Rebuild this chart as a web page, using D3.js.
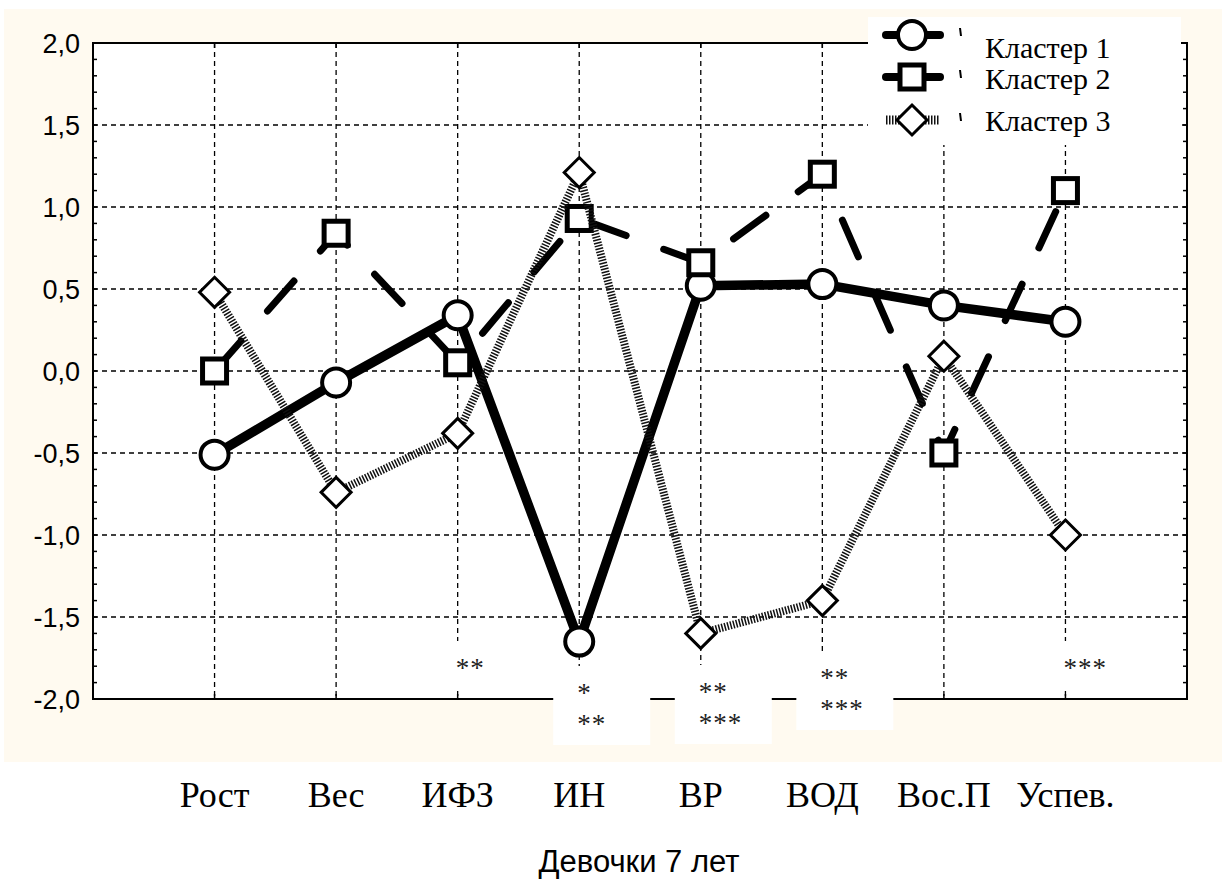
<!DOCTYPE html>
<html>
<head>
<meta charset="utf-8">
<script src="https://cdn.jsdelivr.net/npm/d3@7"></script>
<style>
  body { margin: 0; background: #fff; }
  svg { display: block; }
</style>
</head>
<body>
<svg id="chart"></svg>
<script>
const WIDTH = 1222;
const HEIGHT = 882;

// data
const categories = ["Рост", "Вес", "ИФЗ", "ИН", "ВР", "ВОД", "Вос.П", "Успев."];
const seriesNames = ["Кластер 1", "Кластер 2", "Кластер 3"];
const cluster1 = [-0.51, -0.07, 0.34, -1.65, 0.52, 0.53, 0.40, 0.30];
const cluster2 = [0.00, 0.84, 0.05, 0.93, 0.66, 1.20, -0.50, 1.10];
const cluster3 = [0.48, -0.74, -0.38, 1.21, -1.60, -1.40, 0.09, -1.00];
const yTicks = [-2, -1.5, -1, -0.5, 0, 0.5, 1, 1.5, 2];
const noteCats = ["ИФЗ", "ИН", "ВР", "ВОД", "Успев."];
const noteText = [["**"], ["*", "**"], ["**", "***"], ["**", "***"], ["***"]];
const titleText = "Девочки 7 лет";

// layout
const PLOT = {left: 93, top: 43, right: 1187, bottom: 699};
const NOTE_Y = [665, 690, 689, 675, 665]; // centre of the first row of stars
const LEGEND_Y = [35, 77, 120];
const LEGEND_TEXT_Y = [58, 89, 131];
const BEIGE = "#fffaf0";
const SERIF = "'Liberation Serif', 'Times New Roman', serif";
const SANS = "'Liberation Sans', Arial, sans-serif";

const svg = d3.select("#chart")
    .attr("width", WIDTH)
    .attr("height", HEIGHT);

const x = d3.scalePoint()
    .domain(categories)
    .range([PLOT.left, PLOT.right])
    .padding(1);

const y = d3.scaleLinear()
    .domain([-2, 2])
    .range([PLOT.bottom, PLOT.top]);

const fmt = v => v.toFixed(1).replace(".", ",");

// background panel
svg.append("rect")
    .attr("x", 4).attr("y", 9)
    .attr("width", WIDTH - 4).attr("height", 753)
    .attr("fill", BEIGE);

svg.append("rect")
    .attr("x", PLOT.left).attr("y", PLOT.top)
    .attr("width", PLOT.right - PLOT.left)
    .attr("height", PLOT.bottom - PLOT.top)
    .attr("fill", "#fff");

// grid
const grid = svg.append("g")
    .attr("stroke", "#000")
    .attr("stroke-width", 1.3)
    .attr("stroke-dasharray", "5,4");

grid.selectAll("line.h")
    .data(yTicks.filter(v => v > -2 && v < 2))
    .join("line")
    .attr("class", "h")
    .attr("x1", PLOT.left).attr("x2", PLOT.right)
    .attr("y1", d => y(d)).attr("y2", d => y(d));

grid.selectAll("line.v")
    .data(categories)
    .join("line")
    .attr("class", "v")
    .attr("x1", d => x(d)).attr("x2", d => x(d))
    .attr("y1", PLOT.top).attr("y2", PLOT.bottom);

// minor ticks on both sides
const minor = d3.range(-20, 21).map(i => i / 10);
const ticks = svg.append("g").attr("stroke", "#000").attr("stroke-width", 1.5);
ticks.selectAll("line.l")
    .data(minor).join("line").attr("class", "l")
    .attr("x1", PLOT.left).attr("x2", PLOT.left + 4)
    .attr("y1", d => y(d)).attr("y2", d => y(d));
ticks.selectAll("line.r")
    .data(minor).join("line").attr("class", "r")
    .attr("x1", PLOT.right - 4).attr("x2", PLOT.right)
    .attr("y1", d => y(d)).attr("y2", d => y(d));
ticks.selectAll("line.b")
    .data(categories).join("line").attr("class", "b")
    .attr("x1", d => x(d)).attr("x2", d => x(d))
    .attr("y1", PLOT.bottom - 5).attr("y2", PLOT.bottom);
ticks.selectAll("line.t")
    .data(categories).join("line").attr("class", "t")
    .attr("x1", d => x(d)).attr("x2", d => x(d))
    .attr("y1", PLOT.top).attr("y2", PLOT.top + 5);

// frame
svg.append("rect")
    .attr("x", PLOT.left).attr("y", PLOT.top)
    .attr("width", PLOT.right - PLOT.left)
    .attr("height", PLOT.bottom - PLOT.top)
    .attr("fill", "none")
    .attr("stroke", "#000")
    .attr("stroke-width", 2);

// y labels
const yAxis = svg.append("g")
    .attr("transform", `translate(${PLOT.left},0)`)
    .call(d3.axisLeft(y).tickValues(yTicks).tickFormat(fmt).tickSize(0).tickPadding(13));
yAxis.select(".domain").remove();
yAxis.selectAll("text")
    .attr("font-family", SANS)
    .attr("font-size", 27)
    .attr("fill", "#000")
    .attr("dy", "0.36em");

// x labels
svg.append("g").selectAll("text")
    .data(categories)
    .join("text")
    .attr("x", d => x(d))
    .attr("y", 807)
    .attr("text-anchor", "middle")
    .attr("font-family", SERIF)
    .attr("font-size", 36)
    .text(d => d);

// title
svg.append("text")
    .attr("x", 639).attr("y", 872)
    .attr("text-anchor", "middle")
    .attr("font-family", SANS)
    .attr("font-size", 31)
    .text(titleText);

// series
const series = [
    {name: seriesNames[0], values: cluster1, symbol: "circle"},
    {name: seriesNames[1], values: cluster2, symbol: "square"},
    {name: seriesNames[2], values: cluster3, symbol: "diamond"}
];

const line = d3.line()
    .x((d, i) => x(categories[i]))
    .y(d => y(d));

function styleLine(sel, symbol, width) {
    if (symbol === "circle") {
        sel.attr("stroke", "#000").attr("stroke-width", width || 9.5)
            .attr("stroke-linejoin", "round").attr("stroke-linecap", "round");
    } else if (symbol === "square") {
        sel.attr("stroke", "#000").attr("stroke-width", width || 7)
            .attr("stroke-dasharray", "40,40").attr("stroke-linecap", "round");
    } else {
        sel.attr("stroke", "#111").attr("stroke-width", width || 8)
            .attr("stroke-dasharray", "1.5,1.5").attr("stroke-linecap", "butt");
    }
}

function drawMarker(g, symbol, cx, cy) {
    if (symbol === "circle") {
        g.append("circle")
            .attr("cx", cx).attr("cy", cy).attr("r", 14)
            .attr("fill", "#fff").attr("stroke", "#000").attr("stroke-width", 4);
    } else if (symbol === "square") {
        g.append("rect")
            .attr("x", cx - 12).attr("y", cy - 12)
            .attr("width", 24).attr("height", 24)
            .attr("fill", "#fff").attr("stroke", "#000").attr("stroke-width", 5);
    } else {
        const r = 15;
        g.append("path")
            .attr("d", `M${cx},${cy - r}L${cx + r},${cy}L${cx},${cy + r}L${cx - r},${cy}Z`)
            .attr("fill", "#fff").attr("stroke", "#000").attr("stroke-width", 3);
    }
}

series.forEach(s => {
    const g = svg.append("g");
    g.append("path")
        .datum(s.values)
        .attr("d", line)
        .attr("fill", "none")
        .call(styleLine, s.symbol);
    s.values.forEach((v, i) => drawMarker(g, s.symbol, x(categories[i]), y(v)));
});

// significance notes
const notes = svg.append("g");
noteCats.forEach((c, i) => {
    const cx = x(c);
    const rows = noteText[i];
    const top = NOTE_Y[i] - 24;
    const bottom = NOTE_Y[i] + 31 * (rows.length - 1) + 24;
    notes.append("rect")
        .attr("x", cx - 26).attr("y", top)
        .attr("width", 97).attr("height", bottom - top)
        .attr("fill", "#fff");
    rows.forEach((t, j) => {
        notes.append("text")
            .attr("x", cx - 2)
            .attr("y", NOTE_Y[i] + 31 * j + 12)
            .attr("font-family", SERIF)
            .attr("font-size", 27)
            .attr("letter-spacing", 1)
            .attr("fill", "#222")
            .text(t);
    });
});

// legend
const legend = svg.append("g");
legend.append("rect")
    .attr("x", 868).attr("y", 17)
    .attr("width", 313).attr("height", 128)
    .attr("fill", "#fff");

series.forEach((s, i) => {
    const ly = LEGEND_Y[i];
    const seg = legend.append("line")
        .attr("x1", 886).attr("x2", 940)
        .attr("y1", ly).attr("y2", ly);
    if (s.symbol === "diamond") {
        seg.call(styleLine, s.symbol, 9);
    } else {
        seg.attr("stroke", "#000").attr("stroke-width", 8).attr("stroke-linecap", "round");
    }
    drawMarker(legend, s.symbol, 912, ly);
    legend.append("line")
        .attr("x1", 960).attr("x2", 961)
        .attr("y1", ly - 7).attr("y2", ly + 1)
        .attr("stroke", "#000").attr("stroke-width", 2);
    legend.append("text")
        .attr("x", 985).attr("y", LEGEND_TEXT_Y[i])
        .attr("font-family", SERIF)
        .attr("font-size", 30)
        .text(s.name);
});
</script>
</body>
</html>
